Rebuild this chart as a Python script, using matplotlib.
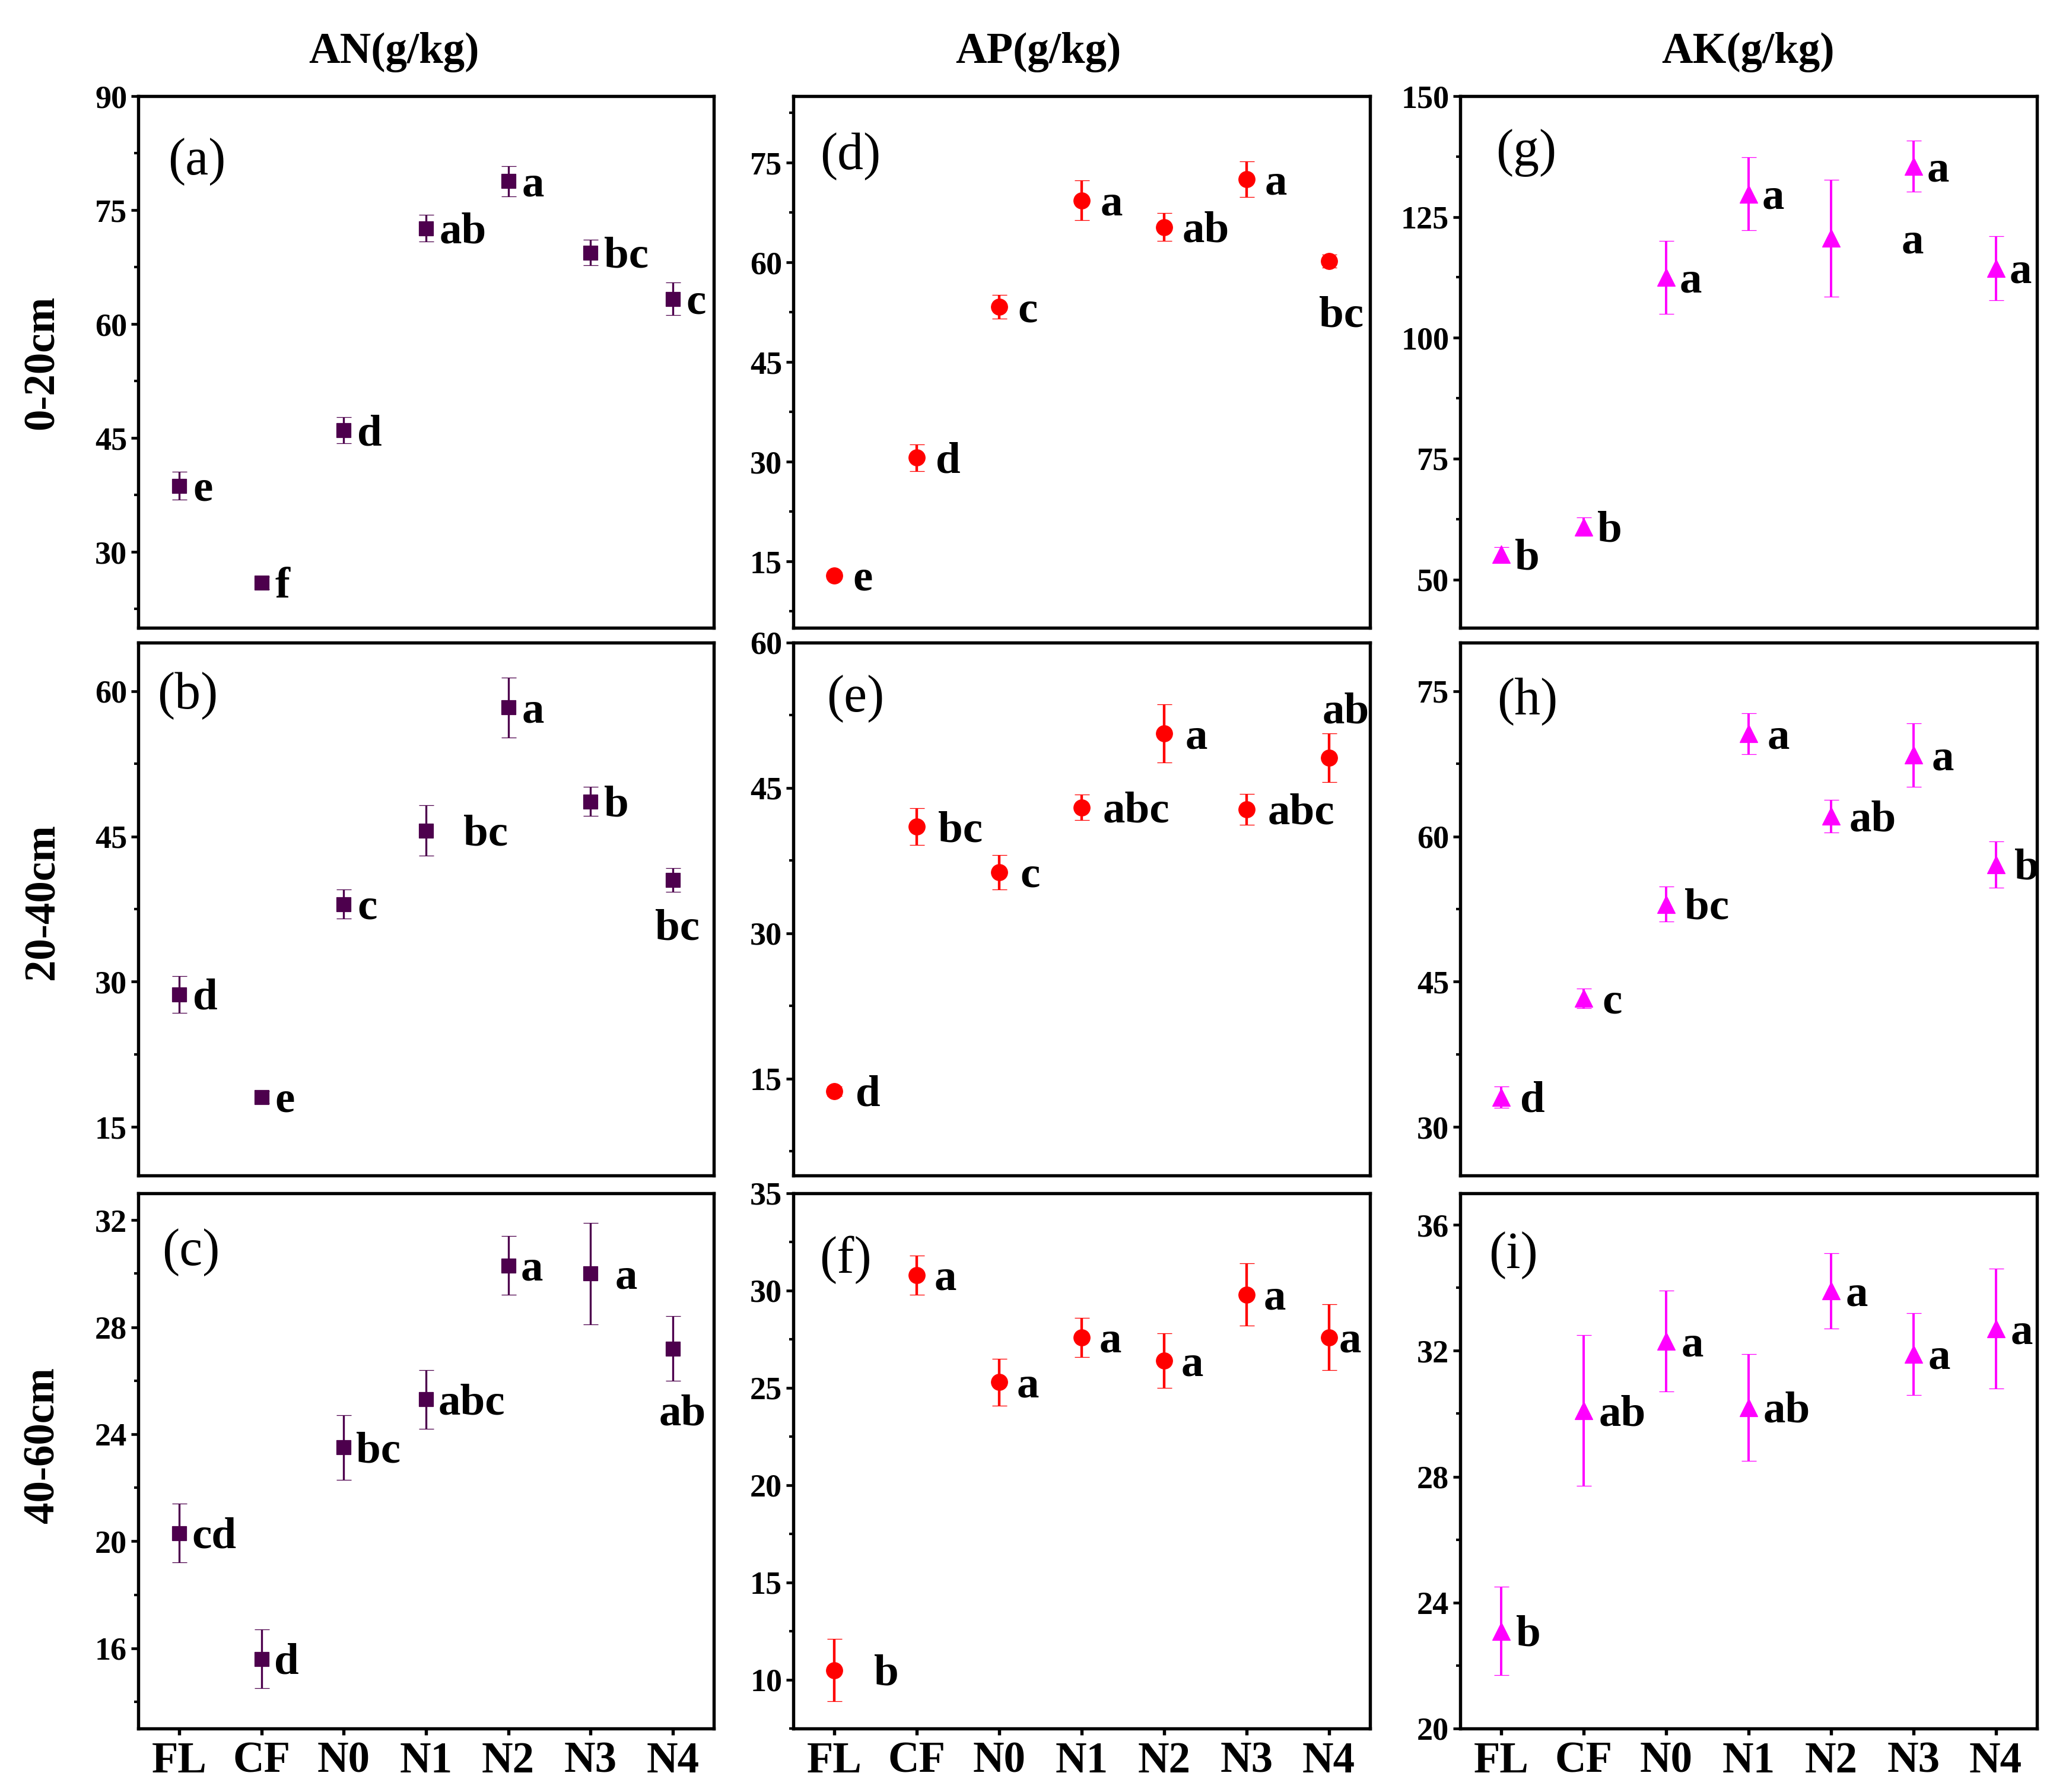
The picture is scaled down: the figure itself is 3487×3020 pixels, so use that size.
import matplotlib
matplotlib.use('Agg')
import matplotlib.pyplot as plt
from matplotlib.ticker import MultipleLocator

plt.rcParams['font.family'] = ['Liberation Serif', 'DejaVu Serif']
plt.rcParams['font.weight'] = 'bold'

# ---------------- data ----------------
treatments = ['FL', 'CF', 'N0', 'N1', 'N2', 'N3', 'N4']
depths = ['0-20cm', '20-40cm', '40-60cm']
nutrients = ['AN(g/kg)', 'AP(g/kg)', 'AK(g/kg)']
panel_tags = ['(a)', '(b)', '(c)', '(d)', '(e)', '(f)', '(g)', '(h)', '(i)']

an_0_20 = [38.7, 25.9, 46.0, 72.6, 78.8, 69.4, 63.3]
an_0_20_err = [1.85, 0.8, 1.7, 1.75, 2.0, 1.7, 2.15]
an_0_20_sig = ['e', 'f', 'd', 'ab', 'a', 'bc', 'c']

an_20_40 = [28.7, 18.1, 38.0, 45.6, 58.3, 48.6, 40.5]
an_20_40_err = [1.9, 0.6, 1.5, 2.6, 3.1, 1.5, 1.2]
an_20_40_sig = ['d', 'e', 'c', 'bc', 'a', 'b', 'bc']

an_40_60 = [20.3, 15.6, 23.5, 25.3, 30.3, 30.0, 27.2]
an_40_60_err = [1.1, 1.1, 1.2, 1.1, 1.1, 1.9, 1.2]
an_40_60_sig = ['cd', 'd', 'bc', 'abc', 'a', 'a', 'ab']

ap_0_20 = [12.9, 30.6, 53.3, 69.3, 65.3, 72.5, 60.2]
ap_0_20_err = [0.5, 2.0, 1.8, 3.0, 2.1, 2.7, 1.0]
ap_0_20_sig = ['e', 'd', 'c', 'a', 'ab', 'a', 'bc']

ap_20_40 = [13.7, 41.0, 36.3, 43.0, 50.6, 42.8, 48.1]
ap_20_40_err = [0.5, 1.9, 1.8, 1.3, 3.0, 1.6, 2.5]
ap_20_40_sig = ['d', 'bc', 'c', 'abc', 'a', 'abc', 'ab']

ap_40_60 = [10.5, 30.8, 25.3, 27.6, 26.4, 29.8, 27.6]
ap_40_60_err = [1.6, 1.0, 1.2, 1.0, 1.4, 1.6, 1.7]
ap_40_60_sig = ['b', 'a', 'a', 'a', 'a', 'a', 'a']

ak_0_20 = [55.2, 60.9, 112.5, 129.8, 120.6, 135.5, 114.4]
ak_0_20_err = [1.5, 1.9, 7.5, 7.5, 12.1, 5.3, 6.6]
ak_0_20_sig = ['b', 'b', 'a', 'a', 'a', 'a', 'a']

ak_20_40 = [33.1, 43.3, 53.0, 70.6, 62.1, 68.4, 57.1]
ak_20_40_err = [1.1, 1.0, 1.8, 2.1, 1.7, 3.3, 2.4]
ak_20_40_sig = ['d', 'c', 'bc', 'a', 'ab', 'a', 'b']

ak_40_60 = [23.1, 30.1, 32.3, 30.2, 33.9, 31.9, 32.7]
ak_40_60_err = [1.4, 2.4, 1.6, 1.7, 1.2, 1.3, 1.9]
ak_40_60_sig = ['b', 'ab', 'a', 'ab', 'a', 'a', 'a']

# ---------------- styling / layout ----------------
W, H = 3487, 3020
fig = plt.figure(figsize=(W / 300, H / 300), dpi=300)

col_px = [(233, 1203), (1337, 2309), (2461, 3433)]
row_px = [(162, 1058), (1083, 1981), (2011, 2913)]

colors = ['#4d004d', '#ff0000', '#ff00ff']
markers = ['s', 'o', '^']
msizes = [5.6, 6.6, 7.4]
elw = [0.8, 1.05, 0.95]

values = [[an_0_20, an_20_40, an_40_60],
          [ap_0_20, ap_20_40, ap_40_60],
          [ak_0_20, ak_20_40, ak_40_60]]
errors = [[an_0_20_err, an_20_40_err, an_40_60_err],
          [ap_0_20_err, ap_20_40_err, ap_40_60_err],
          [ak_0_20_err, ak_20_40_err, ak_40_60_err]]
sigs = [[an_0_20_sig, an_20_40_sig, an_40_60_sig],
        [ap_0_20_sig, ap_20_40_sig, ap_40_60_sig],
        [ak_0_20_sig, ak_20_40_sig, ak_40_60_sig]]

ylims = [[(20, 90), (10, 65), (13, 33)],
         [(5, 85), (5, 60), (7.5, 35)],
         [(40, 150), (25, 80), (20, 37)]]
ysteps = [[15, 15, 4], [15, 15, 5], [25, 15, 4]]

tag_pos = [[(0.052, 0.877), (0.033, 0.900), (0.041, 0.890)],
           [(0.046, 0.887), (0.058, 0.895), (0.045, 0.876)],
           [(0.062, 0.893), (0.064, 0.890), (0.050, 0.884)]]

# default letter offset (points) per panel
default_dx = [[5.5, 5.5, 5.0], [7.5, 8.5, 7.0], [5.5, 7.5, 6.0]]
# special letter placements: (col,row,idx) -> (dx, dy, ha)
special = {
    (0, 1, 3): (15, -6, 'left'),
    (0, 1, 6): (2, -24, 'center'),
    (0, 2, 5): (10, -6, 'left'),
    (0, 2, 6): (4, -31, 'center'),
    (1, 0, 6): (5, -26.5, 'center'),
    (1, 1, 6): (7, 14, 'center'),
    (1, 2, 0): (16, -6, 'left'),
    (1, 2, 6): (4, -6, 'left'),
    (2, 0, 4): (33, -6, 'center'),
}

x = list(range(len(treatments)))

for c in range(3):
    for r in range(3):
        l, rr = col_px[c]
        t, b = row_px[r]
        ax = fig.add_axes([l / W, 1 - b / H, (rr - l) / W, (b - t) / H])
        ax.errorbar(x, values[c][r], yerr=errors[c][r], fmt=markers[c],
                    color=colors[c], ms=msizes[c], mew=0.3,
                    capsize=3.0, elinewidth=elw[c], capthick=elw[c])
        ax.set_xlim(-0.5, 6.5)
        ax.set_ylim(*ylims[c][r])
        ax.yaxis.set_major_locator(MultipleLocator(ysteps[c][r]))
        ax.yaxis.set_minor_locator(MultipleLocator(ysteps[c][r] / 2))
        ax.set_xticks(x)
        ax.set_xticklabels(treatments)
        for s in ax.spines.values():
            s.set_linewidth(1.3)
        ax.tick_params(axis='y', which='major', direction='out', length=3,
                       width=1.1, labelsize=13, pad=1.5)
        ax.tick_params(axis='y', which='minor', direction='out', length=1.6,
                       width=1.0)
        if r == 2:
            ax.tick_params(axis='x', direction='out', length=2.7, width=1.3,
                           labelsize=17.5, pad=2.5)
        else:
            ax.tick_params(axis='x', bottom=False, labelbottom=False)

        tx, ty = tag_pos[c][r]
        ax.text(tx, ty, panel_tags[c * 3 + r], transform=ax.transAxes,
                fontsize=21, fontweight='normal', ha='left', va='center')

        for i, (yv, lab) in enumerate(zip(values[c][r], sigs[c][r])):
            dx, dy, ha = special.get((c, r, i), (default_dx[c][r], -6, 'left'))
            ax.annotate(lab, (x[i], yv), xytext=(dx, dy),
                        textcoords='offset points', ha=ha, va='baseline',
                        fontsize=18, fontweight='bold', color='black')

# column titles
title_x = [664 / W, 1750 / W, 2946 / W]
for c in range(3):
    fig.text(title_x[c], 1 - 88 / H, nutrients[c], ha='center', va='center',
             fontsize=17.5, fontweight='bold')

# row labels
row_y = [1 - 611 / H, 1 - 1520 / H, 1 - 2436 / H]
for r in range(3):
    fig.text(72 / W, row_y[r], depths[r], ha='center', va='center',
             rotation=90, fontsize=17.5, fontweight='bold')

fig.savefig('out.png', dpi=300)
